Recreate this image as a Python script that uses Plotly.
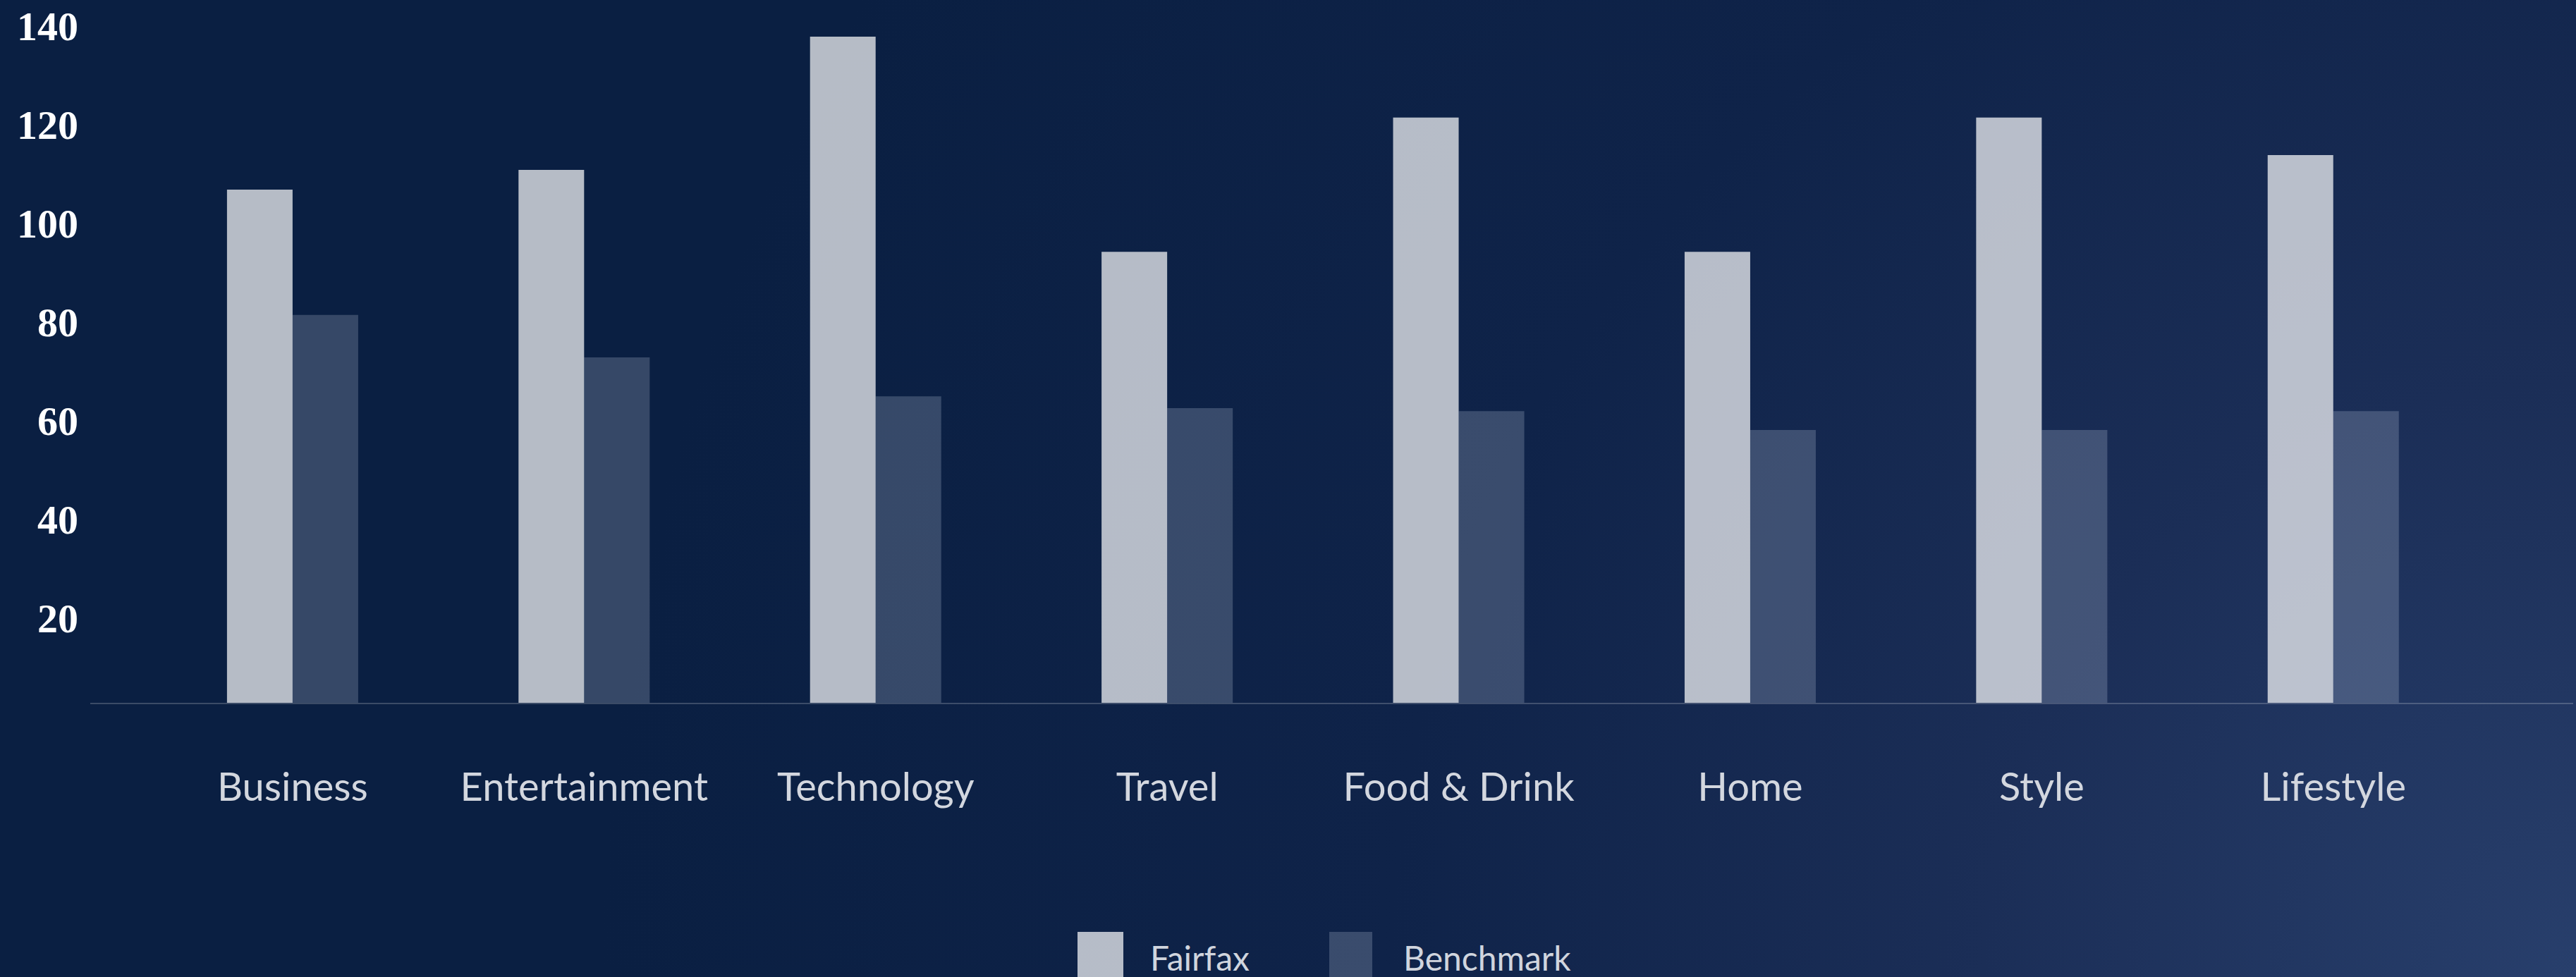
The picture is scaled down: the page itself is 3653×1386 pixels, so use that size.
import base64
import plotly.graph_objects as go

# ---- data ----
categories = ["Business", "Entertainment", "Technology", "Travel",
              "Food & Drink", "Home", "Style", "Lifestyle"]
fairfax = [104, 108, 135, 91.4, 118.6, 91.4, 118.6, 111]
benchmark = [78.6, 70, 62.1, 59.7, 59.1, 55.3, 55.3, 59.1]
y_ticks = [20, 40, 60, 80, 100, 120, 140]
series_names = ["Fairfax", "Benchmark"]

# ---- geometry / style ----
W, H = 3653, 1386
L, R, T, B = 128, 4, 10, 389
PW, PH = W - L - R, H - T - B
BOTTOM_PX = H - B

FAIRFAX_COLOR = "rgba(255,255,255,0.70)"
BENCH_COLOR = "rgba(230,238,255,0.20)"

def px_x(px):
    return (px - L) / PW

def px_y(py):
    return (BOTTOM_PX - py) / PH

svg = f'''<svg xmlns="http://www.w3.org/2000/svg" width="{W}" height="{H}" viewBox="0 0 {W} {H}" preserveAspectRatio="none">
<defs>
<radialGradient id="g" gradientUnits="userSpaceOnUse" cx="{W}" cy="{H}" r="2800">
<stop offset="0" stop-color="#283f6c"/>
<stop offset="0.3" stop-color="#1b2e57"/>
<stop offset="0.6" stop-color="#0f2349"/>
<stop offset="1" stop-color="#0a1f42"/>
</radialGradient>
</defs>
<rect x="0" y="0" width="{W}" height="{H}" fill="#0a1f42"/>
<rect x="0" y="0" width="{W}" height="{H}" fill="url(#g)"/>
</svg>'''
bg_src = "data:image/svg+xml;base64," + base64.b64encode(svg.encode()).decode()

fig = go.Figure()
fig.add_trace(go.Bar(x=categories, y=fairfax, name=series_names[0],
                     marker=dict(color=FAIRFAX_COLOR, line=dict(width=0)),
                     showlegend=False, hoverinfo="x+y"))
fig.add_trace(go.Bar(x=categories, y=benchmark, name=series_names[1],
                     marker=dict(color=BENCH_COLOR, line=dict(width=0)),
                     showlegend=False, hoverinfo="x+y"))

# custom legend (large swatches)
shapes = []
annotations = []
legend_items = [
    (series_names[0], FAIRFAX_COLOR, 1528, 1593, 1629),
    (series_names[1], BENCH_COLOR, 1885, 1946, 1988),
]
for name, color, sx0, sx1, tx in legend_items:
    shapes.append(dict(type="rect", xref="paper", yref="paper",
                       x0=px_x(sx0), x1=px_x(sx1), y0=px_y(1400), y1=px_y(1322),
                       fillcolor=color, line=dict(width=0), layer="above"))
    annotations.append(dict(text=name, xref="paper", yref="paper",
                            x=px_x(tx), y=px_y(1358), xanchor="left", yanchor="middle",
                            showarrow=False,
                            font=dict(family="Lato", size=48, color="#d0d5de")))

fig.update_layout(
    width=W, height=H,
    margin=dict(l=L, r=R, t=T, b=B, pad=0),
    paper_bgcolor="#0a1f42",
    plot_bgcolor="rgba(0,0,0,0)",
    barmode="group", bargap=0.55, bargroupgap=0,
    showlegend=False,
    shapes=shapes,
    annotations=annotations,
    images=[dict(source=bg_src, xref="paper", yref="paper",
                 x=-L / PW, y=1 + T / PH, sizex=W / PW, sizey=H / PH,
                 xanchor="left", yanchor="top", sizing="stretch", layer="below")],
    xaxis=dict(range=[-0.694, 7.823], showgrid=False, zeroline=False,
               showline=True, linecolor="rgba(255,255,255,0.2)", linewidth=2,
               ticks="", ticklabelstandoff=70,
               tickfont=dict(family="Lato", size=56, color="#d3d7df")),
    yaxis=dict(range=[0, 141], showgrid=False, zeroline=False, showline=False,
               tickvals=y_ticks, ticktext=[str(v) for v in y_ticks],
               ticks="", ticklabelstandoff=16, ticklabelshift=20,
               ticklabeloverflow="allow",
               tickfont=dict(family="Liberation Serif", size=58, color="#ffffff",
                             weight="bold")),
)

fig.write_html("out.html",
               config={"displayModeBar": False},
               post_script="document.body.style.margin='0';document.body.style.overflow='hidden';")
